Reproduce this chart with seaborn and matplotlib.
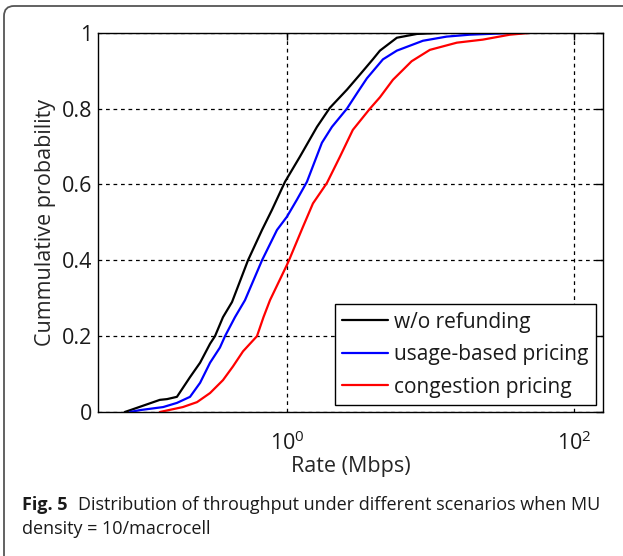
import pandas as pd
import matplotlib.pyplot as plt
import seaborn as sns
from matplotlib.patches import FancyBboxPatch
from matplotlib.ticker import FixedLocator, NullLocator

# CDF points: rate (Mbps) and cumulative probability
wo_rate = [0.074, 0.081, 0.13, 0.146, 0.171, 0.211, 0.248, 0.291, 0.315, 0.358, 0.414,
           0.535, 0.67, 0.786, 0.969, 1.23, 1.62, 1.99, 2.62, 3.23, 3.97, 4.45, 5.84,
           8.06, 12.2]
wo_cdf = [0.0, 0.005, 0.032, 0.034, 0.04, 0.092, 0.13, 0.18, 0.2, 0.25, 0.29,
          0.40, 0.48, 0.533, 0.607, 0.673, 0.752, 0.802, 0.85, 0.89, 0.93, 0.953, 0.987,
          0.997, 1.0]

ub_rate = [0.0805, 0.0946, 0.137, 0.171, 0.211, 0.248, 0.291, 0.341, 0.37, 0.434, 0.51,
           0.67, 0.852, 1.0, 1.174, 1.378, 1.753, 2.06, 2.62, 3.12, 3.61, 4.67, 5.84,
           8.87, 13.0, 18.8, 34.1, 47.0]
ub_cdf = [0.0, 0.005, 0.013, 0.024, 0.04, 0.077, 0.13, 0.17, 0.2, 0.25, 0.295,
          0.40, 0.48, 0.515, 0.56, 0.607, 0.71, 0.752, 0.80, 0.844, 0.88, 0.93, 0.953,
          0.979, 0.99, 0.995, 0.999, 1.0]

cg_rate = [0.13, 0.188, 0.236, 0.291, 0.358, 0.42, 0.494, 0.618, 0.686, 0.762,
           1.0, 1.049, 1.292, 1.518, 1.90, 2.34, 2.88, 3.79, 4.45, 5.48, 6.43, 7.4,
           9.92, 15.3, 23.2, 35.8, 50.2]
cg_cdf = [0.0, 0.013, 0.026, 0.05, 0.084, 0.12, 0.16, 0.2, 0.25, 0.295,
          0.388, 0.406, 0.488, 0.55, 0.604, 0.673, 0.744, 0.80, 0.83, 0.876, 0.902, 0.925,
          0.955, 0.974, 0.982, 0.995, 1.0]

labels = ["w/o refunding", "usage-based pricing", "congestion pricing"]
colors = ["black", "blue", "red"]
y_ticks = [0, 0.2, 0.4, 0.6, 0.8, 1]
y_ticklabels = ["0", "0.2", "0.4", "0.6", "0.8", "1"]
x_ticks = [1, 100]
x_ticklabels = [r"$\mathregular{10^{0}}$", r"$\mathregular{10^{2}}$"]

frames = []
for lab, r, c in zip(labels, [wo_rate, ub_rate, cg_rate], [wo_cdf, ub_cdf, cg_cdf]):
    frames.append(pd.DataFrame({"rate": r, "cdf": c, "scenario": lab}))
df = pd.concat(frames, ignore_index=True)

sns.set_style("white")
plt.rcParams["font.family"] = ["Open Sans", "DejaVu Sans"]
plt.rcParams["mathtext.fontset"] = "custom"
plt.rcParams["mathtext.rm"] = "Open Sans"
plt.rcParams["text.color"] = "#1a1a1a"

fig = plt.figure(figsize=(6.23, 5.56), dpi=100)
ax = fig.add_axes([0.157, 0.259, 0.811, 0.682])

sns.lineplot(data=df, x="rate", y="cdf", hue="scenario", hue_order=labels,
             palette=colors, sort=False, estimator=None, lw=1.6, ax=ax)

ax.set_xscale("log")
ax.set_xlim(0.048, 160)
ax.set_ylim(0, 1)
ax.xaxis.set_major_locator(FixedLocator(x_ticks))
ax.xaxis.set_minor_locator(NullLocator())
ax.set_xticklabels(x_ticklabels)
ax.set_yticks(y_ticks)
ax.set_yticklabels(y_ticklabels)
ax.tick_params(direction="in", top=True, right=True, length=5, width=1,
               labelsize=15.5, colors="black", labelcolor="#1a1a1a")
ax.tick_params(axis="x", pad=14)
ax.tick_params(axis="y", pad=4)
ax.grid(True, ls=(0, (3, 3)), color="black", lw=0.9)
for s in ax.spines.values():
    s.set_color("black")
    s.set_linewidth(1)

ax.set_xlabel("Rate (Mbps)", fontsize=15.5, labelpad=1)
ax.set_ylabel("Cummulative probability", fontsize=15.5, labelpad=4)

handles, _ = ax.get_legend_handles_labels()
leg = ax.legend(handles, labels, loc="lower right", bbox_to_anchor=(0.986, 0.0185),
                borderaxespad=0, fontsize=15, frameon=True, fancybox=False,
                edgecolor="black", framealpha=1, handlelength=2.2, handletextpad=0.3,
                labelspacing=0.55, borderpad=0.35)
leg.get_frame().set_linewidth(1)

# outer frame of the figure panel
fig.add_artist(FancyBboxPatch((0.04, -0.3), 6.5, 5.8,
                              boxstyle="round,pad=0,rounding_size=0.1",
                              transform=fig.dpi_scale_trans, fill=False,
                              edgecolor="#555555", lw=1.3))

fig.text(22 / 623, 1 - 505 / 556, "Fig. 5", fontsize=13, fontweight="bold", va="center")
fig.text(78 / 623, 1 - 505 / 556, "Distribution of throughput under different scenarios when MU",
         fontsize=13, va="center")
fig.text(22 / 623, 1 - 529 / 556, "density = 10/macrocell", fontsize=13, va="center")

fig.savefig("out.png", dpi=100)
